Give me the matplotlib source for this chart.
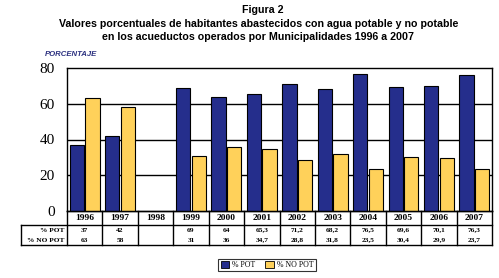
import numpy as np
import matplotlib
matplotlib.use("Agg")
import matplotlib.pyplot as plt
from matplotlib.patches import Patch

years = ["1996", "1997", "1998", "1999", "2000", "2001", "2002", "2003", "2004", "2005", "2006", "2007"]
pot = [37, 42, np.nan, 69, 64, 65.3, 71.2, 68.2, 76.5, 69.6, 70.1, 76.3]
nopot = [63, 58, np.nan, 31, 36, 34.7, 28.8, 31.8, 23.5, 30.4, 29.9, 23.7]
pot_txt = ["37", "42", "", "69", "64", "65,3", "71,2", "68,2", "76,5", "69,6", "70,1", "76,3"]
nopot_txt = ["63", "58", "", "31", "36", "34,7", "28,8", "31,8", "23,5", "30,4", "29,9", "23,7"]
series_names = ["% POT", "% NO POT"]
yticks = [0, 20, 40, 60, 80]

W, H = 499, 278
BLUE = "#252E8C"
YEL = "#FFD15A"
serif = "Liberation Serif"
sans = "Liberation Sans"

fig = plt.figure(figsize=(W / 100, H / 100), dpi=100)

def px(l, t, r, b):
    return [l / W, 1 - b / H, (r - l) / W, (b - t) / H]

L, R, T, B = 67, 492, 68, 211
ax = fig.add_axes(px(L, T, R, B))
x = np.arange(len(years))
bw = 0.40
ax.bar(x - 0.22, pot, bw, color=BLUE, edgecolor="black", linewidth=0.8, zorder=3)
ax.bar(x + 0.22, nopot, bw, color=YEL, edgecolor="black", linewidth=0.8, zorder=3)
ax.set_xlim(-0.5, len(years) - 0.5)
ax.set_ylim(0, 80)
ax.set_yticks(yticks)
ax.set_yticklabels([str(v) for v in yticks], family=serif, fontsize=11)
ax.set_xticks([])
ax.tick_params(axis="y", length=0, pad=9)
for v in yticks[1:-1]:
    ax.axhline(v, color="black", linewidth=1.0, zorder=1)
for s in ax.spines.values():
    s.set_color("black")
    s.set_linewidth(1.0)

# table
TB = 245
tax = fig.add_axes(px(L, B, R, TB))
tax.set_xlim(-0.5, len(years) - 0.5)
tax.set_ylim(TB - B, 0)
tax.axis("off")
catw = (R - L) / len(years)
lab_left = -0.5 - (L - 21) / catw
lw = 1.0
k = dict(color="black", linewidth=lw, clip_on=False, solid_capstyle="projecting")
yr_b = 14
tax.plot([-0.5, 11.5], [0, 0], **k)
tax.plot([lab_left, 11.5], [yr_b, yr_b], **k)
tax.plot([lab_left, 11.5], [TB - B, TB - B], **k)
tax.plot([lab_left, lab_left], [yr_b, TB - B], **k)
for i in range(len(years) + 1):
    tax.plot([i - 0.5, i - 0.5], [0, TB - B], **k)
for i, y in enumerate(years):
    tax.text(i, yr_b / 2 + 0.5, y, ha="center", va="center", family=serif,
             fontsize=6.8, fontweight="bold", clip_on=False)
    tax.text(i, yr_b + 5, pot_txt[i], ha="center", va="center", family=serif,
             fontsize=5.3, fontweight="bold", clip_on=False)
    tax.text(i, yr_b + 15, nopot_txt[i], ha="center", va="center", family=serif,
             fontsize=5.3, fontweight="bold", clip_on=False)
tax.text(-0.57, yr_b + 5, series_names[0], ha="right", va="center", family=serif,
         fontsize=5.3, fontweight="bold", clip_on=False)
tax.text(-0.57, yr_b + 15, series_names[1], ha="right", va="center", family=serif,
         fontsize=5.3, fontweight="bold", clip_on=False)

# titles
fig.text(263 / W, 1 - 10 / H, "Figura 2", ha="center", va="center", family=sans,
         fontsize=7.7, fontweight="bold")
fig.text(259 / W, 1 - 24 / H,
         "Valores porcentuales de habitantes abastecidos con agua potable y no potable",
         ha="center", va="center", family=sans, fontsize=7.7, fontweight="bold")
fig.text(258 / W, 1 - 37 / H,
         "en los acueductos operados por Municipalidades 1996 a 2007",
         ha="center", va="center", family=sans, fontsize=7.7, fontweight="bold")
fig.text(45 / W, 1 - 55 / H, "PORCENTAJE", ha="left", va="center", family=sans,
         fontsize=5.6, fontweight="bold", style="italic", color="#2A2F7F")

handles = [Patch(facecolor=BLUE, edgecolor="black", linewidth=0.6),
           Patch(facecolor=YEL, edgecolor="black", linewidth=0.6)]
leg = fig.legend(handles, series_names, loc="center", bbox_to_anchor=(267 / W, 1 - 265 / H),
                 ncol=2, frameon=True, fancybox=False, prop={"family": serif, "size": 5.6},
                 handlelength=1.1, handleheight=0.9, handletextpad=0.4, columnspacing=1.2,
                 borderpad=0.3, borderaxespad=0)
leg.get_frame().set_edgecolor("black")
leg.get_frame().set_linewidth(0.8)

fig.savefig("out.png", dpi=100)
